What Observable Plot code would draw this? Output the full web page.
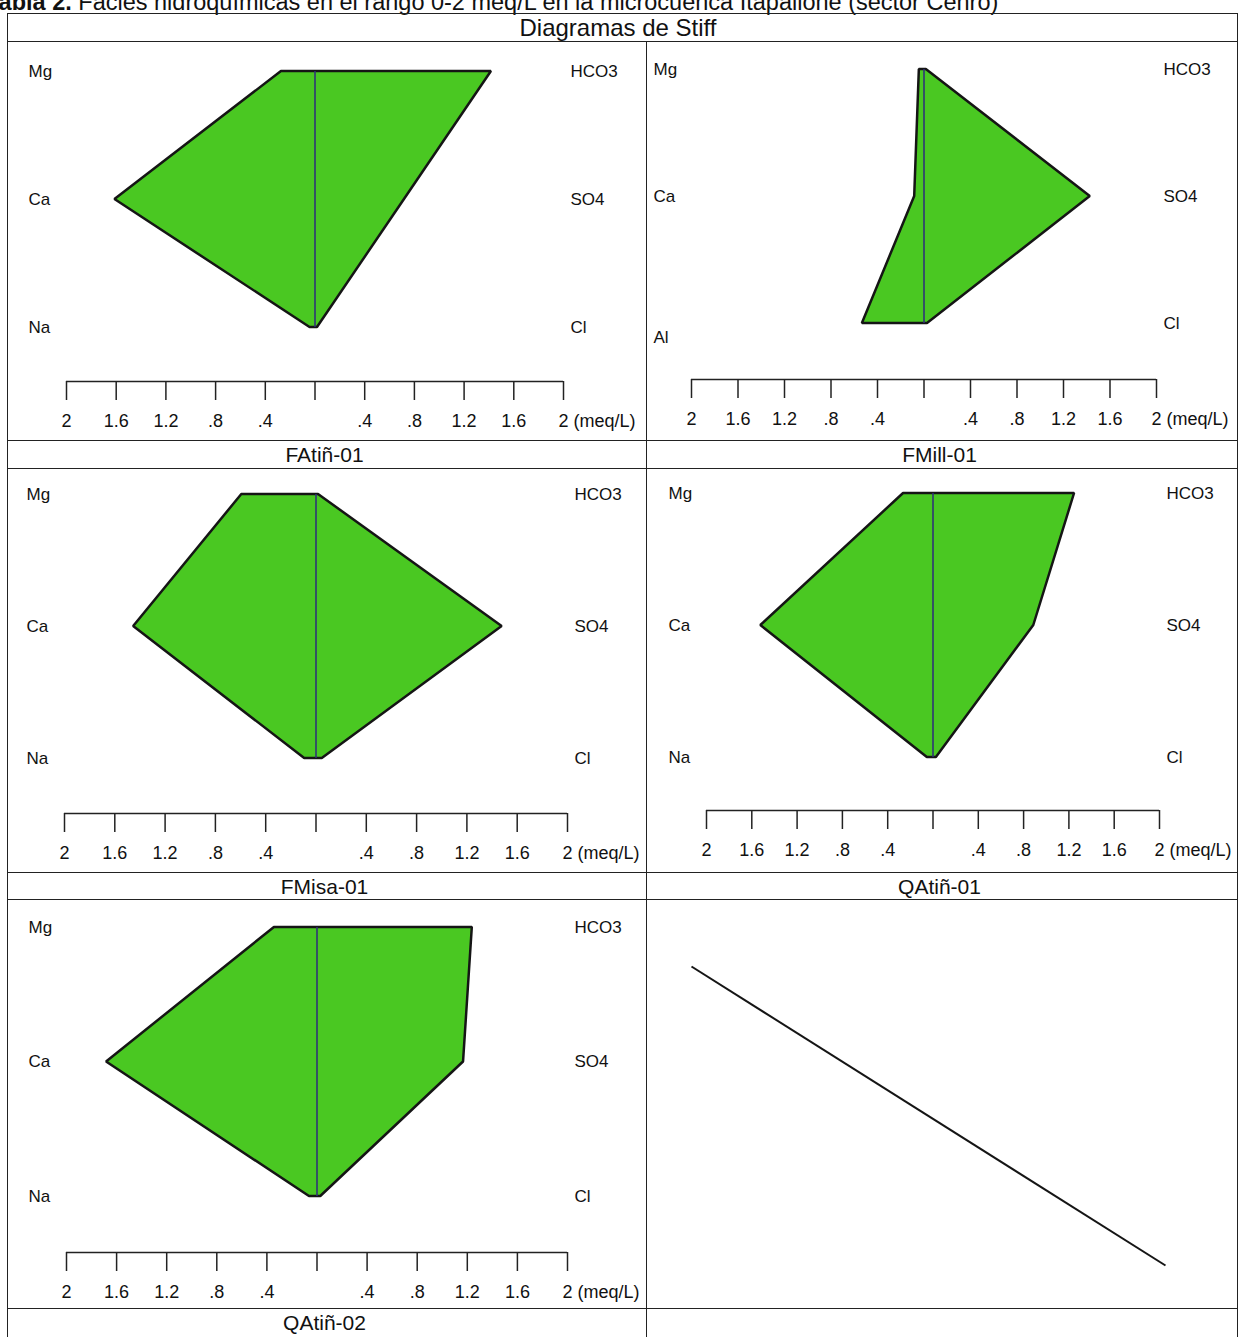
<!DOCTYPE html>
<html>
<head>
<meta charset="utf-8">
<script src="https://cdn.jsdelivr.net/npm/d3@7"></script>
<script src="https://cdn.jsdelivr.net/npm/@observablehq/plot@0.6"></script>
<style>
  body { margin: 0; background: #fff; }
  #page { position: relative; width: 1242px; height: 1337px; overflow: hidden; background: #fff;
          font-family: "Liberation Sans", Arial, sans-serif; color: #111; }
  .hline { position: absolute; height: 0; border-top: 1.5px solid #222; }
  .vline { position: absolute; width: 0; border-left: 1.5px solid #222; }
  .cap { position: absolute; text-align: center; white-space: nowrap; }
  .panel { position: absolute; }
  .panel svg { background: transparent !important; }
</style>
</head>
<body>
<div id="page"></div>
<script>
// Stiff diagram data (meq/L), one entry per sampling point
const sampleNames = ["FAtiñ-01", "FMill-01", "FMisa-01", "QAtiñ-01", "QAtiñ-02"];
const cationNames = [
  ["Mg", "Ca", "Na"],
  ["Mg", "Ca", "Al"],
  ["Mg", "Ca", "Na"],
  ["Mg", "Ca", "Na"],
  ["Mg", "Ca", "Na"]
];
const anionNames = ["HCO3", "SO4", "Cl"];
const cationValues = [
  [0.27, 1.61, 0.04],
  [0.04, 0.08, 0.53],
  [0.59, 1.45, 0.09],
  [0.26, 1.52, 0.05],
  [0.34, 1.68, 0.06]
];
const anionValues = [
  [1.42, 0.72, 0.02],
  [0.02, 1.43, 0.03],
  [0.02, 1.48, 0.05],
  [1.25, 0.89, 0.03],
  [1.24, 1.17, 0.03]
];
// Shared meq/L ruler under every diagram
const scaleTicks = [-2, -1.6, -1.2, -0.8, -0.4, 0, 0.4, 0.8, 1.2, 1.6, 2];
const tickLabels = ["2", "1.6", "1.2", ".8", ".4", "", ".4", ".8", "1.2", "1.6", "2 (meq/L)"];
// Diagonal that strikes through the unused cell
const unusedCellStroke = [{x1: 0, y1: 0, x2: 1, y2: 1}];

const tableTitle = "Diagramas de Stiff";
const docCaptionBold = "Tabla 2.";
const docCaption = " Facies hidroquímicas en el rango 0-2 meq/L en la microcuenca Itapallone (sector Cenro)";

const page = document.getElementById("page");
const FILL = "#4ac822";
const FONT = "'Liberation Sans', Arial, sans-serif";

function el(cls, css, html) {
  const d = document.createElement("div");
  d.className = cls;
  Object.assign(d.style, css);
  if (html !== undefined) d.innerHTML = html;
  page.appendChild(d);
  return d;
}

// Caption of the document table, running off the top edge of the page
el("cap", {left: "-14px", top: "-10px", fontSize: "23.5px", lineHeight: "24px", textAlign: "left"},
   `<b>${docCaptionBold}</b>${docCaption}`);

// Table grid
const L = 8, R = 1238, MID = 647;
const rowLines = [14, 42, 441, 469, 873, 900, 1309];
rowLines.forEach(y => {
  el("hline", {left: L + "px", top: (y - 1) + "px", width: (R - L) + "px"});
});
el("vline", {left: (L - 1) + "px", top: "13px", height: (1337 - 13) + "px"});
el("vline", {left: (R - 1) + "px", top: "13px", height: (1337 - 13) + "px"});
el("vline", {left: (MID - 1) + "px", top: "41px", height: (1337 - 41) + "px"});

el("cap", {left: L + "px", width: (R - L - 10) + "px", top: "14px", height: "28px", lineHeight: "28px", fontSize: "24px"}, tableTitle);

// Cell geometry: box of each diagram and where the ruler/rows sit inside it
const cells = [
  {x: 8,   y: 42,  w: 639, h: 399, ml: 58, mr: 84, top: 29, bottom: 285, axis: 339, capY: 441},
  {x: 647, y: 42,  w: 591, h: 399, ml: 44, mr: 82, top: 27, bottom: 281, axis: 337, capY: 441},
  {x: 8,   y: 469, w: 639, h: 404, ml: 56, mr: 80, top: 25, bottom: 289, axis: 344, capY: 873},
  {x: 647, y: 469, w: 591, h: 404, ml: 59, mr: 79, top: 24, bottom: 288, axis: 341, capY: 873},
  {x: 8,   y: 900, w: 639, h: 409, ml: 58, mr: 80, top: 27, bottom: 296, axis: 352, capY: 1309}
];

sampleNames.forEach((name, s) => {
  const c = cells[s];
  const rows = [0, 1, 2].map(i => ({
    row: i,
    cation: cationValues[s][i],
    anion: anionValues[s][i],
    cationName: cationNames[s][i],
    anionName: anionNames[i]
  }));
  const inset = c.axis - c.bottom;
  const chart = Plot.plot({
    width: c.w,
    height: c.h,
    marginLeft: c.ml,
    marginRight: c.mr,
    marginTop: c.top,
    marginBottom: c.h - c.axis,
    style: {fontFamily: FONT, fontSize: "17px", color: "#111", background: "transparent", overflow: "visible"},
    x: {domain: [-2, 2], axis: null},
    y: {domain: [0, 2], reverse: true, insetBottom: inset, axis: null},
    marks: [
      Plot.areaX(rows, {
        y: "row", x1: d => -d.cation, x2: d => d.anion,
        fill: FILL, stroke: "#151515", strokeWidth: 2.5, strokeLinejoin: "miter"
      }),
      Plot.ruleX([0], {y1: 0, y2: 2, stroke: "#2e2c7c", strokeWidth: 1.5}),
      // cation names on the left, anion names on the right
      Plot.text(rows.filter(d => d.cationName !== "Al"), {
        x: -2, y: "row", text: "cationName", textAnchor: "start", dx: -38, fill: "#111"
      }),
      Plot.text(rows.filter(d => d.cationName === "Al"), {
        x: -2, y: "row", text: "cationName", textAnchor: "start", dx: -38, dy: 14, fill: "#111"
      }),
      Plot.text(rows, {
        x: 2, y: "row", text: "anionName", textAnchor: "start", dx: 7, fill: "#111"
      }),
      // meq/L ruler
      Plot.ruleY([2], {x1: -2, x2: 2, dy: inset, stroke: "#222", strokeWidth: 1.5}),
      Plot.axisX({ticks: scaleTicks, tickSize: 19, tickFormat: () => "", stroke: "#222", strokeWidth: 1.5}),
      Plot.text(scaleTicks.slice(0, -1), {
        x: d => d, text: (d, i) => tickLabels[i], frameAnchor: "bottom", dy: 45,
        fontSize: 18, fill: "#111"
      }),
      Plot.text(scaleTicks.slice(-1), {
        x: d => d, text: () => tickLabels[tickLabels.length - 1], frameAnchor: "bottom",
        dy: 45, dx: -5, textAnchor: "start", fontSize: 18, fill: "#111"
      })
    ]
  });
  const holder = el("panel", {left: c.x + "px", top: c.y + "px", width: c.w + "px", height: c.h + "px"});
  holder.appendChild(chart);

  const colLeft = c.x, colW = c.x === 8 ? MID - L : R - MID;
  el("cap", {left: (colLeft - 3) + "px", width: colW + "px", top: c.capY + "px", height: "28px",
             lineHeight: "28px", fontSize: "21px"}, name);
});

// Empty sixth cell, struck through
const strike = Plot.plot({
  width: 591, height: 409,
  marginLeft: 44, marginRight: 73, marginTop: 66, marginBottom: 44,
  style: {background: "transparent"},
  x: {domain: [0, 1], axis: null},
  y: {domain: [0, 1], reverse: true, axis: null},
  marks: [
    Plot.link(unusedCellStroke, {x1: "x1", y1: "y1", x2: "x2", y2: "y2", stroke: "#151515", strokeWidth: 2})
  ]
});
el("panel", {left: "647px", top: "900px", width: "591px", height: "409px"}).appendChild(strike);
</script>
</body>
</html>
